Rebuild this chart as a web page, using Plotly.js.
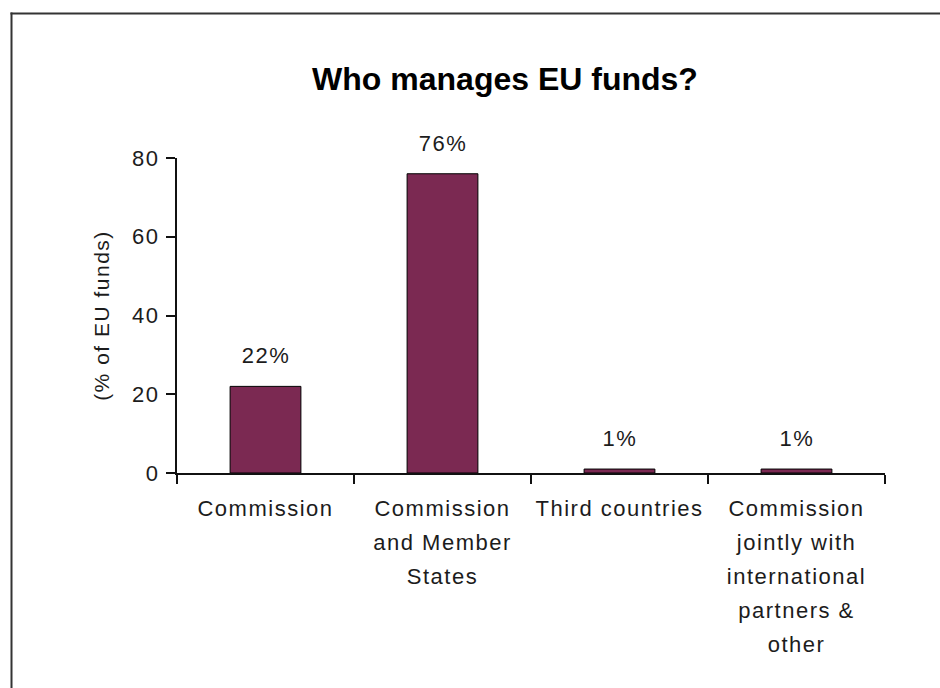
<!DOCTYPE html>
<html><head><meta charset="utf-8">
<script src="https://cdn.plot.ly/plotly-3.0.1.min.js"></script>
<style>
html,body{margin:0;padding:0;background:#fff;}
#chart{width:940px;height:688px;}
#chart .xtick text, #chart .ytick text, #chart .g-ytitle text, #chart .annotation-text {letter-spacing:1.5px;}
</style>
</head><body><div id="chart"></div>
<script>
const categories = ["Commission", "Commission<br>and Member<br>States", "Third countries", "Commission<br>jointly with<br>international<br>partners &amp;<br>other"];
const values = [22, 76, 1, 1];
const valueLabels = ["22%", "76%", "1%", "1%"];
const yTickValues = [0, 20, 40, 60, 80];
const yTickLabels = ["0", "20", "40", "60", "80"];

const W = 940, H = 688;
const M = {l: 177, r: 55, t: 158, b: 215};
const plotW = W - M.l - M.r, plotH = H - M.t - M.b;
const px2x = p => (p - M.l) / plotW;
const py2y = p => (H - M.b - p) / plotH;

const font = "Liberation Sans, Arial, sans-serif";
const txt = "#1c1c1c";
const fs = 22;

const trace = {
  type: "bar",
  x: categories,
  y: values,
  marker: {color: "#7b2952", line: {color: "#000", width: 1}},
  hoverinfo: "skip"
};

const annotations = categories.map((c, i) => ({
  x: c, y: values[i], xref: "x", yref: "y",
  text: valueLabels[i], showarrow: false,
  yanchor: "bottom", yshift: 16,
  font: {family: font, size: fs, color: txt}
}));

const border = [
  {type: "line", xref: "paper", yref: "paper", x0: px2x(10.5), x1: px2x(945), y0: py2y(13.5), y1: py2y(13.5), line: {color: "#333", width: 2}},
  {type: "line", xref: "paper", yref: "paper", x0: px2x(11.5), x1: px2x(11.5), y0: py2y(12.5), y1: py2y(700), line: {color: "#333", width: 2}}
];

const layout = {
  width: W, height: H,
  margin: M,
  paper_bgcolor: "#fff", plot_bgcolor: "#fff",
  showlegend: false,
  bargap: 0.6,
  title: {
    text: "<b>Who manages EU funds?</b>",
    xref: "container", yref: "container", x: 505 / W, y: 1 - 79 / H,
    xanchor: "center", yanchor: "middle",
    font: {family: font, size: 32, color: "#000"}
  },
  xaxis: {
    type: "category",
    showline: true, linecolor: "#111", linewidth: 2,
    ticks: "outside", tickson: "boundaries", ticklen: 9, tickcolor: "#111", tickwidth: 2,
    tickfont: {family: font, size: fs, color: txt},
    ticklabelstandoff: 15,
    showgrid: false, zeroline: false, automargin: false
  },
  yaxis: {
    range: [0, 80],
    tickvals: yTickValues, ticktext: yTickLabels,
    showline: true, linecolor: "#111", linewidth: 2,
    ticks: "outside", ticklen: 9, tickcolor: "#111", tickwidth: 2,
    tickfont: {family: font, size: fs, color: txt},
    ticklabelstandoff: 2,
    showgrid: false, zeroline: false, automargin: false,
    title: {text: "(% of EU funds)", font: {family: font, size: 21, color: txt}, standoff: 20}
  },
  shapes: border,
  annotations: annotations
};

Plotly.newPlot("chart", [trace], layout, {displayModeBar: false, staticPlot: true}).then(gd => {
  const ratio = 34 / (1.3 * fs);
  gd.querySelectorAll(".xtick text tspan.line").forEach(t => {
    const dy = t.getAttribute("dy");
    if (dy && dy.endsWith("em")) {
      t.setAttribute("dy", (parseFloat(dy) * ratio) + "em");
    }
  });
});
</script>
</body></html>
